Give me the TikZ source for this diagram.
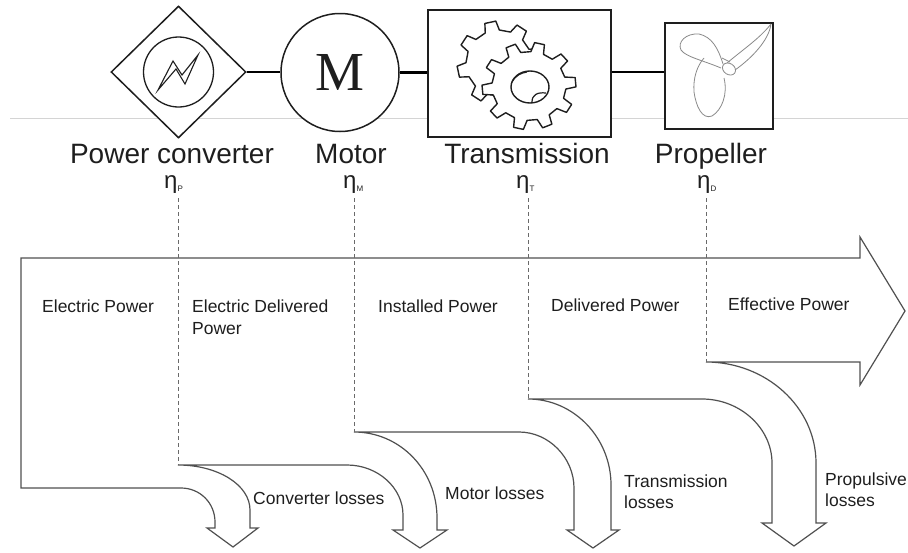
\documentclass[tikz,border=0pt]{standalone}
\usepackage{fontspec}
\setmainfont{Liberation Sans}
\newfontfamily\motorfont{Liberation Serif}
\usetikzlibrary{shapes.geometric}

\definecolor{ink}{HTML}{1E1E1E}
\definecolor{flowgray}{HTML}{505050}
\definecolor{dashgray}{HTML}{6A6A6A}
\definecolor{rulegray}{HTML}{D4D4D4}
\definecolor{propgray}{HTML}{8A8A8A}

\tikzset{
  x=1pt, y=-1pt,
  icon/.style={draw=ink, line width=1.5pt, fill=white, inner sep=0pt},
  shaft/.style={draw=black, line width=2.6pt},
  gearline/.style={draw=ink, line width=1.4pt, line join=round, fill=white},
  propline/.style={draw=propgray, line width=0.8pt, line join=round},
  flow/.style={draw=flowgray, line width=1.2pt, line join=miter},
  guide/.style={draw=dashgray, line width=0.8pt, dash pattern=on 4pt off 3pt},
  toplabel/.style={font=\fontsize{28}{30}\selectfont, text=ink, inner sep=0pt, anchor=base},
  etalabel/.style={font=\fontsize{24}{26}\selectfont, text=ink, inner sep=0pt, anchor=base west},
  flowlabel/.style={font=\fontsize{17.5}{20}\selectfont, text=ink, inner sep=0pt, anchor=base west},
}

% gear outline: inner radius, outer radius, number of teeth, phase angle
\newcommand\gearoutline[4]{%
  \pgfmathsetmacro\gst{360/#3}%
  \draw[gearline] ({#4-0.28*\gst}:#1pt)
    \foreach \k in {1,...,#3}{
      -- ({#4+(\k-1)*\gst-0.28*\gst}:#1pt)
      -- ({#4+(\k-1)*\gst-0.17*\gst}:#2pt)
      -- ({#4+(\k-1)*\gst+0.17*\gst}:#2pt)
      -- ({#4+(\k-1)*\gst+0.28*\gst}:#1pt)
    } -- cycle;%
}
\newcommand\subtag[1]{\raisebox{-3pt}{\fontsize{8}{8}\selectfont #1}}

\begin{document}
\begin{tikzpicture}
\useasboundingbox (0,0) rectangle (908,552);

% thin rule behind the drive train
\draw[rulegray, line width=0.8pt] (10,118) -- (908,118);

% drive train components
\node[icon, diamond, minimum width=135pt, minimum height=132pt] (conv) at (178.5,72) {};
\node[icon, circle, minimum size=118pt] (motor) at (340,72.5) {};
\node[icon, rectangle, minimum width=183pt, minimum height=127pt] (trans) at (519.5,73.5) {};
\node[icon, rectangle, minimum width=108pt, minimum height=106pt] (prop) at (719,76) {};

% shafts between components
\draw[shaft] (conv.east) -- (conv.east -| motor.west);
\draw[shaft] (motor.east) -- (motor.east -| trans.west);
\draw[shaft] (trans.east |- 0,72) -- (prop.west |- 0,72);

% converter symbol
\draw[ink, line width=1.3pt] (conv.center) circle[radius=35pt];
\draw[ink, line width=1.1pt, line join=miter]
  (158,90) -- (173,61) -- (182,75) -- (198,55) -- (185,84) -- (176,69) -- cycle;

% motor letter
\node[inner sep=0pt, text=ink, font=\motorfont\fontsize{55}{55}\selectfont] (mletter) at (motor.center) {M};

% gears
\begin{scope}[shift={(499,63)}]
  \gearoutline{33}{42}{8}{12}
\end{scope}
\begin{scope}[shift={(529,86)}, yscale=0.93]
  \gearoutline{37}{47}{10}{5}
\end{scope}
\draw[gearline, fill=none] (530,87) ellipse[x radius=19pt, y radius=16pt];
\draw[ink, line width=1.2pt] (512,82) .. controls (516,75) and (521,73) .. (527,72);
\draw[ink, line width=1.2pt] (532,102) .. controls (532,95) and (537,92) .. (546,93);

% propeller sketch
\draw[propline] (723,64) .. controls (718,48) and (712,37) .. (699,34)
  .. controls (686,33) and (677,42) .. (681,50)
  .. controls (686,57) and (702,60) .. (721,68);
\draw[propline] (724,78) .. controls (728,94) and (722,110) .. (712,116)
  .. controls (702,120) and (696,106) .. (694,92)
  .. controls (693,78) and (697,66) .. (704,58);
\draw[propline] (727,63) .. controls (745,48) and (760,38) .. (771,24)
  .. controls (769,40) and (752,58) .. (735,70);
\draw[propline] (722,58) -- (730,62);
\draw[propline, rotate around={-35:(729,69)}] (729,69) ellipse[x radius=7pt, y radius=5.5pt];

% component labels
\node[toplabel] (lconv) at (172,163) {Power converter};
\node[toplabel] (lmotor) at (351,163) {Motor};
\node[toplabel] (ltrans) at (527,163) {Transmission};
\node[toplabel] (lprop) at (711,163) {Propeller};

\node[etalabel] (etaP) at (164,188) {η\subtag{P}};
\node[etalabel] (etaM) at (343,188) {η\subtag{M}};
\node[etalabel] (etaT) at (516,188) {η\subtag{T}};
\node[etalabel] (etaD) at (697,188) {η\subtag{D}};

% stage boundaries
\coordinate (gP) at (178,198);
\coordinate (gM) at (354,198);
\coordinate (gT) at (528,198);
\coordinate (gD) at (706,198);
\coordinate (dP) at (178,465);
\coordinate (dM) at (354,432);
\coordinate (dT) at (528,399);
\coordinate (dD) at (706,362);

% power flow with its four loss branches
\draw[flow, fill=white]
  (21,258) -- (860,258) -- (860,237) -- (905,311) -- (860,385) -- (860,362) -- (dD)
  .. controls (766,362) and (816,407) .. (816,463) -- (816,523) -- (826,523) -- (794,546) -- (762,523) -- (772,523) -- (772,463)
  .. controls (772,428) and (740,399) .. (702,399) -- (dT)
  .. controls (574,399) and (611,438) .. (611,485) -- (611,530) -- (619,530) -- (593,548) -- (567,530) -- (574,530) -- (574,488)
  .. controls (574,458) and (549,432) .. (519,432) -- (dM)
  .. controls (400,432) and (437,470) .. (437,518) -- (437,530) -- (447,530) -- (420,548) -- (393,530) -- (403,530) -- (403,515)
  .. controls (403,488) and (378,465) .. (347,465) -- (dP)
  .. controls (218,465) and (250,485) .. (250,510) -- (250,528) -- (258,528) -- (233,547) -- (207,528) -- (215,528) -- (215,522)
  .. controls (215,503) and (200,488) .. (181,488) -- (21,488) -- cycle;

\draw[guide] (gP) -- (dP);
\draw[guide] (gM) -- (dM);
\draw[guide] (gT) -- (dT);
\draw[guide] (gD) -- (dD);

% flow labels
\node[flowlabel] (fElec) at (42,312) {Electric Power};
\node[flowlabel] (fDel1) at (192,312) {Electric Delivered};
\node[flowlabel] (fDel2) at (192,334) {Power};
\node[flowlabel] (fInst) at (378,312) {Installed Power};
\node[flowlabel] (fDeliv) at (551,311) {Delivered Power};
\node[flowlabel] (fEff) at (728,310) {Effective Power};

\node[flowlabel] (lConv) at (253,504) {Converter losses};
\node[flowlabel] (lMot) at (445,499) {Motor losses};
\node[flowlabel] (lTr1) at (624,487) {Transmission};
\node[flowlabel] (lTr2) at (624,508) {losses};
\node[flowlabel] (lPr1) at (825,485) {Propulsive};
\node[flowlabel] (lPr2) at (825,506) {losses};
\end{tikzpicture}
\end{document}
